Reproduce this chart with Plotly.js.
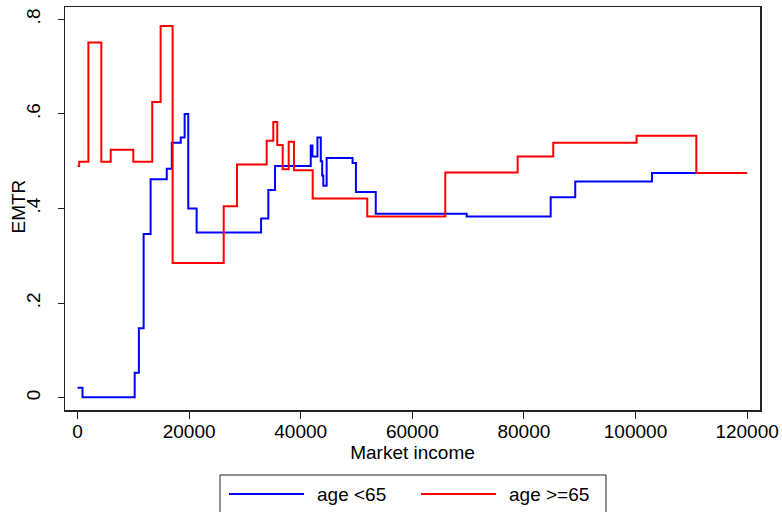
<!DOCTYPE html>
<html>
<head>
<meta charset="utf-8">
<script src="https://cdn.plot.ly/plotly-3.0.1.min.js"></script>
<style>html,body{margin:0;padding:0;background:#fff;}#chart{width:782px;height:512px;}</style>
</head>
<body>
<div id="chart"></div>
<script>
// Step change points (market income) and EMTR values
const incomeUnder65 = [0, 900, 10250, 11000, 11850, 13100, 16000, 16900, 18500, 19200, 19850, 21350, 32900, 34200, 35400, 41800, 42100, 43000, 43600, 43850, 44050, 44650, 49300, 49900, 53450, 69750, 84800, 89200, 102950, 120000];
const emtrUnder65   = [0.021, 0.001, 0.053, 0.147, 0.346, 0.462, 0.484, 0.539, 0.550, 0.600, 0.400, 0.349, 0.379, 0.439, 0.490, 0.533, 0.510, 0.550, 0.500, 0.470, 0.448, 0.507, 0.496, 0.435, 0.389, 0.383, 0.424, 0.457, 0.475, 0.475];

const income65plus = [0, 300, 1950, 4270, 5950, 10000, 13400, 14900, 17050, 26200, 28580, 33900, 35090, 35800, 36770, 37850, 38800, 42150, 51930, 65910, 78880, 85260, 100200, 110900, 120000];
const emtr65plus   = [0.490, 0.499, 0.751, 0.499, 0.524, 0.499, 0.625, 0.786, 0.285, 0.405, 0.493, 0.543, 0.583, 0.534, 0.483, 0.541, 0.481, 0.421, 0.383, 0.476, 0.510, 0.539, 0.554, 0.475, 0.475];

const seriesNames = ["age <65", "age >=65"];
const yTickVals = [0, 0.2, 0.4, 0.6, 0.8];
const yTickText = ["0", ".2", ".4", ".6", ".8"];
const xTickVals = [0, 20000, 40000, 60000, 80000, 100000, 120000];
const xTickText = ["0", "20000", "40000", "60000", "80000", "100000", "120000"];
const xTitle = "Market income";
const yTitle = "EMTR";

const FONT = "Liberation Sans, Arial, Helvetica, sans-serif";

const traces = [
  {x: incomeUnder65, y: emtrUnder65, name: seriesNames[0], type: "scatter", mode: "lines",
   line: {color: "#0000ff", width: 2, shape: "hv"}},
  {x: income65plus, y: emtr65plus, name: seriesNames[1], type: "scatter", mode: "lines",
   line: {color: "#ff0000", width: 2, shape: "hv"}}
];

// paper coords helpers (plot area: x 65..760, y 7..410)
const L = 65, R = 760, T = 7, B = 410;
const px = v => (v - L) / (R - L);
const py = v => (B - v) / (B - T);

const layout = {
  width: 782, height: 512,
  margin: {l: L, r: 782 - R, t: T, b: 512 - B},
  paper_bgcolor: "#fff", plot_bgcolor: "#fff",
  showlegend: false,
  font: {family: FONT, size: 19, color: "#000"},
  xaxis: {
    range: [-2240, 122312], tickvals: xTickVals, ticktext: xTickText, ticks: "outside", ticklen: 7, tickcolor: "#222",
    ticklabelstandoff: -3,
    showline: true, linecolor: "#222", linewidth: 1.5, mirror: true, showgrid: false, zeroline: false,
    tickfont: {family: FONT, size: 19, color: "#000"},
    title: {text: xTitle, font: {family: FONT, size: 19, color: "#000"}, standoff: 1}
  },
  yaxis: {
    range: [-0.026, 0.826], tickvals: yTickVals, ticktext: yTickText, tickangle: -90,
    ticks: "outside", ticklen: 6, tickcolor: "#222", ticklabelstandoff: 10,
    showline: true, linecolor: "#222", linewidth: 1.5, mirror: true, showgrid: false, zeroline: false,
    tickfont: {family: FONT, size: 19, color: "#000"}
  },
  shapes: [
    {type: "rect", xref: "paper", yref: "paper", x0: px(220), x1: px(606), y0: py(540), y1: py(475),
     line: {color: "#222", width: 1}, fillcolor: "rgba(0,0,0,0)"},
    {type: "line", xref: "paper", yref: "paper", x0: px(229), x1: px(304), y0: py(494), y1: py(494),
     line: {color: traces[0].line.color, width: 2}},
    {type: "line", xref: "paper", yref: "paper", x0: px(421), x1: px(496), y0: py(494), y1: py(494),
     line: {color: traces[1].line.color, width: 2}}
  ],
  annotations: [
    {xref: "paper", yref: "paper", x: px(17.5), y: py(206), text: yTitle, showarrow: false, textangle: -90,
     xanchor: "center", yanchor: "middle", font: {family: FONT, size: 19, color: "#000"}},
    {xref: "paper", yref: "paper", x: px(315), y: py(494), text: seriesNames[0], showarrow: false,
     xanchor: "left", yanchor: "middle", font: {family: FONT, size: 19, color: "#000"}},
    {xref: "paper", yref: "paper", x: px(507), y: py(494), text: seriesNames[1], showarrow: false,
     xanchor: "left", yanchor: "middle", font: {family: FONT, size: 19, color: "#000"}}
  ]
};

Plotly.newPlot("chart", traces, layout, {staticPlot: true, displayModeBar: false});
</script>
</body>
</html>
